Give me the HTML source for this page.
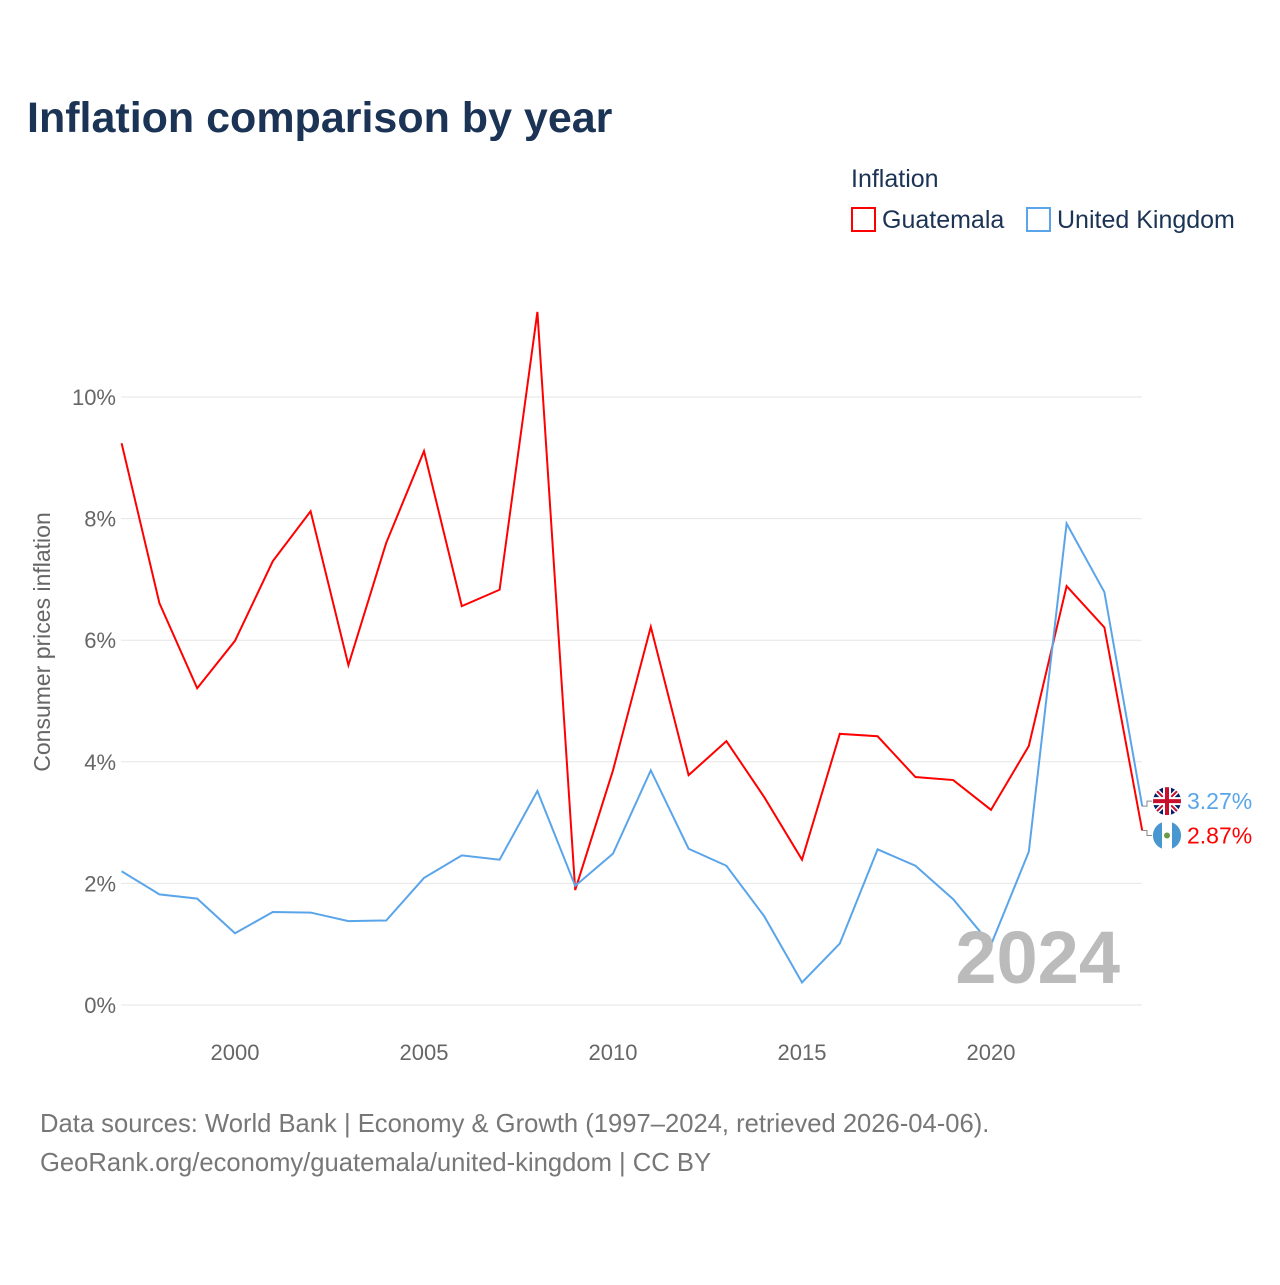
<!DOCTYPE html>
<html><head><meta charset="utf-8"><style>
body{margin:0;background:#fff;font-family:"Liberation Sans",sans-serif}
</style></head><body>
<svg id="chart" width="1280" height="1280" xmlns="http://www.w3.org/2000/svg">
<text x="27" y="132" font-size="43" font-weight="bold" fill="#1b3354">Inflation comparison by year</text>
<text x="851" y="187" font-size="25" fill="#1b3354">Inflation</text>
<g><rect x="852" y="208" width="23" height="23" fill="none" stroke="#f00" stroke-width="2"/><text x="882" y="228" font-size="25" fill="#1b3354">Guatemala</text></g>
<g><rect x="1027" y="208" width="23" height="23" fill="none" stroke="#5aa5ea" stroke-width="2"/><text x="1057" y="228" font-size="25" fill="#1b3354">United Kingdom</text></g>
<g id="grid"></g><g id="xt"></g><g id="lines"></g>
<text x="1120" y="983" font-size="74" font-weight="bold" fill="#bbb" text-anchor="end">2024</text>
<text transform="translate(50,642) rotate(-90)" font-size="23" fill="#666" text-anchor="middle">Consumer prices inflation</text>
<text x="40" y="1132" font-size="25.6" fill="#777">Data sources: World Bank | Economy &amp; Growth (1997–2024, retrieved 2026-04-06).</text>
<text x="40" y="1171" font-size="25.6" fill="#777">GeoRank.org/economy/guatemala/united-kingdom | CC BY</text>
</svg>
<script>
const years=[1997,1998,1999,2000,2001,2002,2003,2004,2005,2006,2007,2008,2009,2010,2011,2012,2013,2014,2015,2016,2017,2018,2019,2020,2021,2022,2023,2024];
const guatemala=[9.24,6.61,5.21,5.99,7.30,8.12,5.59,7.60,9.11,6.56,6.83,11.40,1.89,3.86,6.22,3.78,4.34,3.42,2.39,4.46,4.42,3.75,3.70,3.21,4.26,6.89,6.21,2.87];
const uk=[2.20,1.82,1.75,1.18,1.53,1.52,1.38,1.39,2.09,2.46,2.39,3.52,1.96,2.49,3.86,2.57,2.29,1.46,0.37,1.01,2.56,2.29,1.74,0.99,2.52,7.92,6.79,3.27];
const yTicks=[0,2,4,6,8,10];
const xTicks=[2000,2005,2010,2015,2020];
const X=y=>121.6+(y-1997)*37.8, Y=v=>1005-v*60.8;
const NS="http://www.w3.org/2000/svg";
function mk(p,t,a){const e=document.createElementNS(NS,t);for(const k in a)e.setAttribute(k,a[k]);(typeof p==='string'?document.getElementById(p):p).appendChild(e);return e;}
yTicks.forEach(v=>{
 const l=mk('grid','line',{x1:121,x2:1142,y1:Y(v),y2:Y(v),stroke:'#e6e6e6','stroke-width':1});
 
 
 const t=mk('grid','text',{x:116,y:Y(v)+8,'font-size':22,fill:'#666','text-anchor':'end'});t.textContent=v+'%';
 
 
});
xTicks.forEach(v=>{
 const t=mk('xt','text',{x:X(v),y:1060,'font-size':22,fill:'#666','text-anchor':'middle'});t.textContent=v;
 
 
});
function series(d,c,name,off,flag){
 const p=mk('lines','path',{d:d.map((v,i)=>(i?'L':'M')+X(years[i])+','+Y(v)).join(''),fill:'none',stroke:c,'stroke-width':2});
 
 
 const ey=Y(d[d.length-1]), ly=ey+off;
 mk('lines','path',{d:`M1142,${ey}L1147,${ey}L1147,${ly}L1152,${ly}`,fill:'none',stroke:'#888','stroke-width':1});
 const g=mk('lines','g',{});
 
 
 flag(g,1167,ly);
 const t=mk('lines','text',{x:1187,y:ly+8,'font-size':23,fill:c});t.textContent=d[d.length-1].toFixed(2)+'%';
 
 
}
function gtFlag(g,cx,cy){
 mk(g,'circle',{cx,cy,r:14,fill:'#fff'});
 mk(g,'path',{d:`M${cx-5},${cy-13.1}A14,14 0 0 0 ${cx-5},${cy+13.1}Z`,fill:'#4997d0'});
 mk(g,'path',{d:`M${cx+5},${cy-13.1}A14,14 0 0 1 ${cx+5},${cy+13.1}Z`,fill:'#4997d0'});
 mk(g,'circle',{cx,cy,r:3,fill:'#6a9a4a'});
}
function ukFlag(g,cx,cy){
 const cp=mk(g,'clipPath',{id:'ukc'});mk(cp,'circle',{cx,cy,r:14});
 const h=mk(g,'g',{'clip-path':'url(#ukc)'});
 mk(h,'rect',{x:cx-14,y:cy-14,width:28,height:28,fill:'#012169'});
 mk(h,'path',{d:`M${cx-14},${cy-14}L${cx+14},${cy+14}M${cx+14},${cy-14}L${cx-14},${cy+14}`,stroke:'#fff','stroke-width':5});
 mk(h,'path',{d:`M${cx-14},${cy-14}L${cx+14},${cy+14}M${cx+14},${cy-14}L${cx-14},${cy+14}`,stroke:'#c8102e','stroke-width':2});
 mk(h,'path',{d:`M${cx},${cy-14}V${cy+14}M${cx-14},${cy}H${cx+14}`,stroke:'#fff','stroke-width':8});
 mk(h,'path',{d:`M${cx},${cy-14}V${cy+14}M${cx-14},${cy}H${cx+14}`,stroke:'#c8102e','stroke-width':4});
}
series(guatemala,'#f00','guatemala',5,gtFlag);
series(uk,'#5aa5ea','united-kingdom',-5,ukFlag);
</script>
</body></html>
